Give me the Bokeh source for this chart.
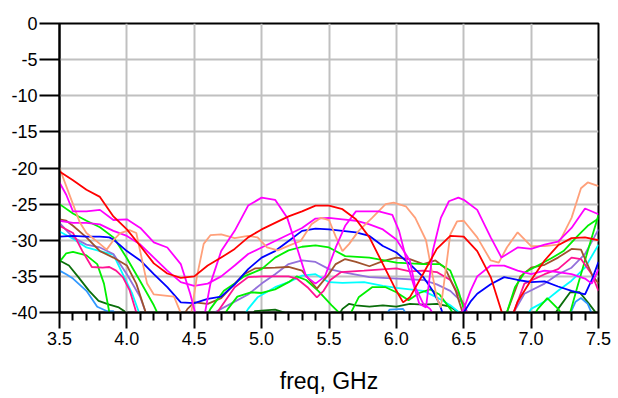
from bokeh.plotting import figure
from bokeh.models import FixedTicker, PrintfTickFormatter, Range1d
from bokeh.embed import file_html
from bokeh.resources import INLINE

# ---------------- axis ticks ----------------
x_ticks = [3.5, 4.0, 4.5, 5.0, 5.5, 6.0, 6.5, 7.0, 7.5]
x_minor = [3.6, 3.7, 3.8, 3.9, 4.1, 4.2, 4.3, 4.4, 4.6, 4.7, 4.8, 4.9,
           5.1, 5.2, 5.3, 5.4, 5.6, 5.7, 5.8, 5.9, 6.1, 6.2, 6.3, 6.4,
           6.6, 6.7, 6.8, 6.9, 7.1, 7.2, 7.3, 7.4]
y_ticks = [-40, -35, -30, -25, -20, -15, -10, -5, 0]

# ---------------- series (freq GHz, dB) ----------------
red_f = [3.5, 3.6, 3.7, 3.8, 3.9, 4.0, 4.1, 4.2, 4.3, 4.4, 4.5, 4.6, 4.7, 4.8, 4.9, 5.0, 5.1, 5.2, 5.3, 5.4,
         5.5, 5.6, 5.7, 5.8, 5.9, 6.0, 6.05, 6.1, 6.2, 6.3, 6.4, 6.5, 6.6, 6.7, 6.8, 6.85, 6.9, 7.0, 7.1,
         7.2, 7.3, 7.4, 7.5]
red_db = [-20.5, -21.7, -23.0, -24.0, -26.7, -28.5, -30.8, -33.2, -34.6, -35.2, -35.0, -33.5, -32.4, -31.2,
          -29.6, -28.5, -27.6, -26.7, -26.0, -25.2, -25.2, -25.7, -27.1, -29.6, -33.3, -37.0, -38.6, -37.9,
          -34.6, -31.2, -29.4, -29.5, -31.5, -35.1, -41.0, -41.0, -38.5, -35.5, -32.8, -30.7, -29.7, -29.6, -30.0]

salmon_f = [3.5, 3.55, 3.6, 3.65, 3.7, 3.8, 3.85, 3.9, 3.95, 4.02, 4.07, 4.11, 4.15, 4.2, 4.35, 4.42, 4.47,
            4.52, 4.57, 4.62, 4.7, 4.8, 4.9, 4.97, 5.04, 5.12, 5.22, 5.29, 5.37, 5.44, 5.5, 5.55, 5.6, 5.65,
            5.72, 5.82, 5.92, 5.98, 6.07, 6.14, 6.22, 6.26, 6.3, 6.33, 6.36, 6.4, 6.45, 6.5, 6.6, 6.7, 6.76,
            6.82, 6.9, 7.0, 7.1, 7.2, 7.3, 7.37, 7.42, 7.5]
salmon_db = [-20.0, -22.5, -25.0, -27.5, -29.0, -30.5, -31.3, -30.0, -29.0, -28.6, -29.0, -32.5, -36.0, -37.5,
             -37.8, -41.0, -41.0, -35.0, -30.5, -29.3, -29.2, -29.7, -29.4, -29.6, -31.0, -31.4, -30.6, -30.1,
             -27.8, -26.9, -27.2, -29.5, -31.5, -30.5, -28.7, -26.9, -25.0, -24.8, -25.3, -26.9, -30.0, -34.0,
             -38.0, -39.3, -35.0, -29.2, -27.4, -27.3, -29.6, -32.8, -33.1, -31.0, -28.9, -30.8, -30.8, -30.6,
             -26.9, -22.8, -22.0, -22.5]

magA_f = [3.5, 3.55, 3.6, 3.7, 3.8, 3.9, 4.0, 4.1, 4.2, 4.3, 4.4, 4.47, 4.52, 4.57, 4.62, 4.7, 4.8, 4.9, 5.0,
          5.1, 5.19, 5.27, 5.33, 5.4, 5.47, 5.55, 5.62, 5.7, 5.87, 5.97, 6.02, 6.09, 6.17, 6.22, 6.27, 6.33,
          6.39, 6.46, 6.5, 6.6, 6.7, 6.78, 6.9, 7.0, 7.1, 7.2, 7.3, 7.4, 7.5]
magA_db = [-22.0, -23.7, -26.0, -26.0, -25.8, -27.2, -27.1, -28.3, -30.3, -31.0, -33.3, -37.4, -41.0, -41.0,
           -36.0, -31.5, -28.7, -25.2, -24.1, -24.4, -26.9, -31.5, -35.0, -36.0, -35.0, -31.0, -28.0, -26.0,
           -26.0, -26.5, -28.7, -33.8, -38.8, -39.3, -31.5, -26.9, -24.6, -24.1, -24.4, -25.8, -29.6, -32.4,
           -31.0, -31.2, -30.6, -30.2, -28.3, -25.6, -26.4]

magB_f = [3.5, 3.6, 3.7, 3.8, 3.9, 4.0, 4.1, 4.2, 4.3, 4.4, 4.5, 4.6, 4.7, 4.8, 4.9, 5.0, 5.1, 5.2, 5.3, 5.4,
          5.5, 5.6, 5.7, 5.8, 5.9, 6.0, 6.1, 6.14, 6.2, 6.25, 6.3, 6.45, 6.5, 6.55, 6.6, 6.7, 6.8, 6.9, 7.0,
          7.1, 7.2, 7.3, 7.4, 7.45, 7.5]
magB_db = [-27.3, -27.6, -27.6, -27.8, -28.7, -29.4, -30.6, -32.4, -34.2, -35.8, -36.3, -36.0, -35.0, -33.5,
           -31.9, -31.0, -30.1, -29.2, -28.3, -27.0, -26.9, -27.1, -27.3, -27.8, -28.5, -29.9, -32.8, -36.5,
           -38.8, -39.5, -41.0, -41.0, -39.5, -37.0, -35.0, -33.5, -33.5, -34.2, -34.7, -34.2, -34.4, -34.7,
           -35.3, -36.0, -34.0]

greenA_f = [3.5, 3.6, 3.7, 3.8, 3.9, 3.95, 4.0, 4.1, 4.2, 4.25, 4.58, 4.62, 4.72, 4.8, 4.87, 5.0, 5.1, 5.2,
            5.3, 5.4, 5.5, 5.62, 5.8, 6.0, 6.1, 6.2, 6.32, 6.4, 6.46, 6.5, 6.53, 6.79, 6.82, 6.88, 6.95, 7.05,
            7.15, 7.24, 7.34, 7.42, 7.5]
greenA_db = [-25.0, -26.3, -27.3, -28.2, -29.6, -31.0, -32.5, -35.7, -39.0, -41.0, -41.0, -39.5, -37.0, -36.0,
             -35.0, -34.0, -32.4, -31.4, -30.9, -30.7, -31.0, -32.2, -32.4, -33.1, -33.2, -33.3, -33.3, -34.2,
             -37.0, -39.5, -41.0, -41.0, -40.0, -36.5, -34.5, -33.5, -32.5, -31.5, -29.5, -28.0, -27.0]

greenB_f = [3.5, 3.55, 3.6, 3.7, 3.78, 3.83, 3.87, 3.9, 4.7, 4.75, 4.82, 4.92, 5.0, 5.1, 5.2, 5.26, 5.33, 5.42,
            5.52, 5.6, 5.65, 5.72, 5.82, 5.92, 6.0, 6.09, 6.17, 6.25, 6.32, 6.4, 6.45, 7.0, 7.05, 7.12, 7.2,
            7.26, 7.29, 7.35, 7.42, 7.5]
greenB_db = [-33.0, -31.8, -31.6, -32.1, -33.3, -36.0, -40.0, -41.0, -41.0, -39.5, -37.8, -37.2, -37.3, -36.8,
             -35.8, -35.0, -35.5, -37.0, -39.0, -40.5, -40.5, -37.9, -36.5, -36.5, -37.2, -38.3, -37.3, -36.8,
             -37.5, -39.5, -41.0, -41.0, -39.5, -38.0, -39.5, -41.0, -40.0, -36.0, -31.5, -26.5]

blue_f = [3.5, 3.6, 3.7, 3.8, 3.87, 3.9, 4.0, 4.1, 4.2, 4.3, 4.4, 4.5, 4.6, 4.7, 4.8, 4.9, 5.0, 5.1, 5.2, 5.3,
          5.4, 5.5, 5.6, 5.7, 5.8, 5.9, 6.0, 6.1, 6.2, 6.27, 6.32, 6.35, 6.45, 6.5, 6.55, 6.6, 6.7, 6.8, 6.9,
          7.0, 7.1, 7.2, 7.3, 7.4, 7.45, 7.5]
blue_db = [-29.5, -29.4, -29.5, -29.5, -29.6, -29.9, -31.5, -32.8, -34.7, -36.5, -38.6, -38.7, -38.1, -37.8,
           -36.1, -34.0, -32.4, -31.5, -30.1, -28.7, -28.4, -28.5, -28.7, -28.9, -29.4, -30.8, -31.7, -33.3,
           -35.1, -37.0, -38.8, -40.5, -41.0, -40.0, -38.5, -37.4, -36.1, -35.1, -35.5, -35.8, -35.7, -36.4,
           -37.0, -37.5, -35.5, -33.0]

brown_f = [3.5, 3.55, 3.6, 3.7, 3.8, 3.9, 4.0, 4.07, 4.14, 4.18, 4.4, 4.45, 4.5, 4.6, 4.7, 4.8, 4.87, 4.95,
           5.1, 5.2, 5.3, 5.36, 5.41, 5.49, 5.55, 5.62, 5.7, 5.8, 5.9, 6.0, 6.1, 6.2, 6.29, 6.36, 6.44, 6.5,
           6.53, 6.8, 6.82, 6.92, 7.0, 7.1, 7.2, 7.3, 7.37, 7.45, 7.5]
brown_db = [-27.1, -27.3, -28.0, -29.6, -31.5, -32.4, -33.5, -36.0, -40.0, -41.0, -41.0, -39.5, -38.6, -38.8,
            -38.0, -36.0, -34.7, -33.9, -33.8, -33.7, -34.2, -35.6, -36.7, -34.9, -33.3, -32.6, -33.0, -33.6,
            -32.9, -32.4, -32.6, -33.3, -32.8, -33.8, -37.0, -40.5, -41.0, -41.0, -40.0, -35.0, -33.8, -33.4,
            -32.4, -31.2, -31.3, -34.7, -36.0]

purple_f = [3.5, 3.6, 3.7, 3.8, 3.9, 4.0, 4.1, 4.14, 4.18, 4.55, 4.65, 4.8, 4.9, 5.0, 5.1, 5.2, 5.3, 5.4, 5.5,
            5.6, 5.8, 6.0, 6.2, 6.3, 6.4, 6.5, 6.55, 6.83, 6.87, 6.95, 7.1, 7.2, 7.3, 7.4, 7.5]
purple_db = [-27.6, -29.6, -30.6, -31.0, -31.9, -34.7, -37.9, -40.0, -41.0, -41.0, -40.0, -38.5, -37.5, -36.0,
             -34.7, -33.3, -32.8, -33.0, -34.0, -34.4, -35.1, -35.3, -35.5, -36.1, -37.0, -38.8, -41.0, -41.0,
             -40.0, -37.4, -36.0, -34.7, -33.8, -31.9, -28.5]

cyan_f = [3.5, 3.6, 3.7, 3.8, 3.9, 3.97, 4.04, 4.09, 4.12, 4.85, 4.9, 4.97, 5.1, 5.2, 5.3, 5.4, 5.5, 5.6, 5.76,
          5.9, 6.0, 6.2, 6.3, 6.4, 6.5, 6.53, 6.95, 7.0, 7.1, 7.2, 7.3, 7.4, 7.5]
cyan_db = [-28.8, -29.8, -31.0, -31.5, -32.0, -34.7, -37.4, -40.0, -41.0, -41.0, -39.5, -37.9, -36.5, -35.8,
           -34.9, -34.7, -35.8, -35.9, -35.8, -36.3, -36.6, -37.0, -37.9, -39.0, -40.5, -41.0, -41.0, -39.5,
           -38.5, -37.0, -35.6, -33.8, -30.6]

pink_f = [3.5, 3.6, 3.67, 3.74, 3.82, 3.87, 3.92, 3.97, 4.02, 4.07, 4.1, 4.62, 4.67, 4.8, 4.9, 5.0, 5.1, 5.2,
          5.26, 5.34, 5.41, 5.46, 5.51, 5.59, 5.76, 6.0, 6.1, 6.2, 6.3, 6.4, 6.5, 6.54, 6.83, 6.87, 6.95, 7.1,
          7.2, 7.3, 7.37, 7.45, 7.5]
pink_db = [-28.0, -29.0, -31.5, -33.7, -33.8, -33.7, -34.2, -35.1, -36.9, -40.0, -41.0, -41.0, -40.0, -36.5,
           -35.1, -35.0, -35.0, -35.0, -35.3, -36.5, -37.9, -37.0, -35.5, -34.4, -34.2, -33.9, -34.3, -34.2,
           -34.4, -35.5, -38.8, -41.0, -41.0, -40.0, -36.0, -34.7, -34.0, -32.4, -32.6, -34.7, -37.0]

dkgreen_f = [3.5, 3.57, 3.64, 3.72, 3.79, 3.87, 3.94, 3.98, 4.02, 4.9, 4.95, 5.1, 5.2, 5.25, 5.55, 5.6, 5.65,
             5.7, 5.8, 5.9, 6.0, 6.1, 6.2, 6.3, 6.4, 6.5, 6.55, 7.15, 7.2, 7.29, 7.36, 7.43, 7.5]
dkgreen_db = [-32.8, -33.5, -35.1, -37.0, -38.4, -38.9, -39.3, -39.8, -41.0, -41.0, -39.8, -39.6, -40.2, -41.0,
              -41.0, -39.5, -38.8, -39.0, -39.2, -39.0, -39.2, -38.8, -38.9, -38.8, -39.2, -40.5, -41.0, -41.0,
              -39.5, -37.2, -37.2, -38.8, -40.5]

dodger_f = [3.5, 3.55, 3.6, 3.7, 3.78, 3.85, 3.9, 3.93, 5.9, 5.95, 6.05, 6.1, 7.27, 7.33, 7.37, 7.42, 7.47]
dodger_db = [-34.2, -34.7, -35.3, -37.0, -39.2, -39.8, -39.8, -41.0, -41.0, -39.6, -39.5, -41.0, -41.0, -38.5,
             -38.0, -38.8, -41.0]

series = [
    (dkgreen_f, dkgreen_db, "#0A6E0A"),
    (dodger_f, dodger_db, "#3399FF"),
    (cyan_f, cyan_db, "#00FFFF"),
    (purple_f, purple_db, "#9370DB"),
    (greenB_f, greenB_db, "#00F000"),
    (pink_f, pink_db, "#FF1493"),
    (brown_f, brown_db, "#A0522D"),
    (greenA_f, greenA_db, "#00F000"),
    (blue_f, blue_db, "#0000FF"),
    (magB_f, magB_db, "#FF00FF"),
    (salmon_f, salmon_db, "#FFA07A"),
    (magA_f, magA_db, "#FF00FF"),
    (red_f, red_db, "#FF0000"),
]

FONT = "Liberation Sans"

p = figure(width=618, height=398, x_range=Range1d(3.5, 7.5), y_range=Range1d(-40, 0),
           output_backend="svg", toolbar_location=None,
           min_border_left=59, min_border_right=20, min_border_top=23, min_border_bottom=86,
           background_fill_color="white", border_fill_color="white")

p.outline_line_color = "black"
p.outline_line_width = 2

for f, db, c in series:
    p.line(f, db, line_color=c, line_width=1.8)

# grid
for g in (p.xgrid, p.ygrid):
    g.grid_line_color = "#C0C0C0"
    g.grid_line_width = 2

# x axis
xa = p.xaxis[0]
xa.ticker = FixedTicker(ticks=x_ticks, minor_ticks=x_minor)
xa.formatter = PrintfTickFormatter(format="%.1f")
xa.axis_line_color = "black"
xa.axis_line_width = 2
xa.major_tick_line_color = "black"
xa.major_tick_line_width = 2
xa.major_tick_out = 16
xa.major_tick_in = 0
xa.minor_tick_line_color = "black"
xa.minor_tick_line_width = 2
xa.minor_tick_out = 8
xa.minor_tick_in = 0
xa.major_label_text_font = FONT
xa.major_label_text_font_size = "18px"
xa.major_label_text_color = "black"
xa.major_label_standoff = 3
xa.axis_label = "freq, GHz"
xa.axis_label_text_font = FONT
xa.axis_label_text_font_size = "23px"
xa.axis_label_text_font_style = "normal"
xa.axis_label_text_color = "black"
xa.axis_label_standoff = 20

# y axis
ya = p.yaxis[0]
ya.ticker = FixedTicker(ticks=y_ticks, minor_ticks=[])
ya.formatter = PrintfTickFormatter(format="%d")
ya.axis_line_color = "black"
ya.axis_line_width = 2
ya.major_tick_line_color = "black"
ya.major_tick_line_width = 2
ya.major_tick_out = 20
ya.major_tick_in = 0
ya.minor_tick_out = 0
ya.minor_tick_in = 0
ya.major_label_text_font = FONT
ya.major_label_text_font_size = "18px"
ya.major_label_text_color = "black"
ya.major_label_standoff = 2

open("out.html", "w").write(file_html(p, INLINE))
